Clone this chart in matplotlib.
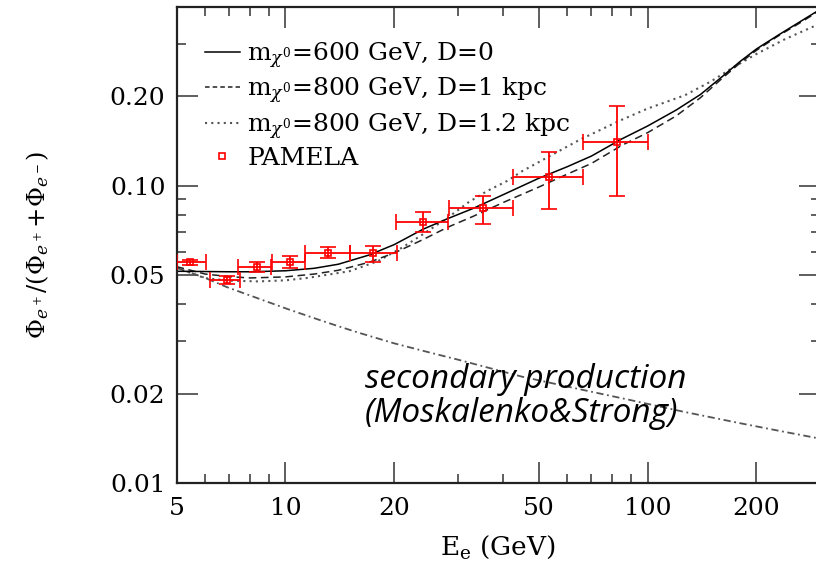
import matplotlib.pyplot as plt
from matplotlib.lines import Line2D
from matplotlib.legend_handler import HandlerLine2D
from matplotlib.ticker import FixedLocator, FixedFormatter, NullFormatter

plt.rcParams['font.family'] = ['DejaVu Serif']
plt.rcParams['mathtext.fontset'] = 'dejavuserif'

# model curves: energy (GeV) vs positron fraction
e_solid = [5, 6, 7, 8, 10, 12, 14, 17, 20, 24, 28, 33, 40, 50, 60, 70, 85, 100,
           120, 140, 160, 180, 200, 230, 260, 300]
f_solid = [0.0516, 0.0515, 0.0514, 0.0514, 0.0518, 0.0528, 0.0545, 0.0585, 0.0635,
           0.0715, 0.0775, 0.0840, 0.0935, 0.1060, 0.1160, 0.1260, 0.1440, 0.1590,
           0.1800, 0.2030, 0.2320, 0.2620, 0.2890, 0.3220, 0.3530, 0.3930]

e_dash = [5, 6, 7, 8, 10, 12, 14, 17, 20, 24, 28, 33, 40, 50, 60, 70, 85, 100,
          120, 140, 160, 180, 200, 230, 260, 300]
f_dash = [0.0535, 0.0505, 0.0495, 0.0490, 0.0494, 0.0505, 0.0520, 0.0553, 0.0595,
          0.0660, 0.0725, 0.0790, 0.0880, 0.0990, 0.1095, 0.1190, 0.1370, 0.1510,
          0.1720, 0.1980, 0.2290, 0.2590, 0.2860, 0.3200, 0.3500, 0.3900]

e_dot = [5, 6, 7, 8.4, 10, 11.5, 13, 15, 18, 21, 24, 28, 32, 36, 41, 45, 55, 65,
         84, 100, 127, 150, 172, 200, 240, 300]
f_dot = [0.0530, 0.0489, 0.0480, 0.0477, 0.0481, 0.0490, 0.0502, 0.0516, 0.0558,
         0.0620, 0.0688, 0.0780, 0.0880, 0.0960, 0.1040, 0.1120, 0.1280, 0.1430,
         0.1660, 0.1820, 0.2020, 0.2250, 0.2500, 0.2780, 0.3120, 0.3520]

# secondary production (Moskalenko & Strong)
e_sec = [5, 6, 6.9, 8.5, 10.2, 12.4, 14, 16, 20, 25, 30, 45, 66, 90, 125, 180, 230, 300]
f_sec = [0.0530, 0.0490, 0.0456, 0.0416, 0.0384, 0.0354, 0.0337, 0.0320, 0.0295,
         0.0275, 0.0260, 0.0228, 0.0206, 0.0190, 0.0174, 0.0159, 0.0150, 0.0141]

# PAMELA positron fraction
pam_e = [5.45, 6.9, 8.35, 10.3, 13.1, 17.5, 24.0, 35.2, 53.6, 82.6]
pam_e_lo = [5.0, 6.2, 7.4, 9.2, 11.3, 15.1, 20.2, 28.3, 42.5, 66.3]
pam_e_hi = [6.05, 7.5, 9.1, 11.3, 15.1, 20.3, 28.1, 42.5, 66.3, 100.5]
pam_f = [0.0555, 0.0482, 0.0532, 0.0555, 0.0594, 0.0594, 0.0755, 0.0842, 0.1068, 0.1400]
pam_f_lo = [0.0541, 0.0466, 0.0512, 0.0529, 0.0573, 0.0555, 0.0699, 0.0743, 0.0836, 0.0924]
pam_f_hi = [0.0565, 0.0499, 0.0554, 0.0580, 0.0621, 0.0630, 0.0817, 0.0923, 0.1300, 0.1863]

x_major = [5, 10, 20, 50, 100, 200]
x_minor = [6, 7, 8, 9, 30, 40, 60, 70, 80, 90, 300]
y_major = [0.01, 0.02, 0.05, 0.1, 0.2]
y_labels = ['0.01', '0.02', '0.05', '0.10', '0.20']
y_minor = [0.03, 0.04, 0.06, 0.07, 0.08, 0.09, 0.3, 0.4]


class MarkerAtRight(HandlerLine2D):
    # put the legend marker near the right end of the handle
    def get_xdata(self, legend, xdescent, ydescent, width, height, fontsize):
        xdata = [-xdescent, -xdescent + width]
        return xdata, [-xdescent + width * 0.9]


fig = plt.figure(figsize=(8.16, 5.65), dpi=100)
ax = fig.add_axes([0.2163, 0.1451, 0.7889, 0.8425])
ax.set_xscale('log')
ax.set_yscale('log')
ax.set_xlim(5, 300)
ax.set_ylim(0.01, 0.4)

ax.plot(e_sec, f_sec, color='#555555', lw=1.3, dashes=(4, 2, 1, 2))
ax.plot(e_dot, f_dot, color='#555555', lw=1.5, dashes=(1, 2))
ax.plot(e_dash, f_dash, color='#222222', lw=1.1, dashes=(5, 3))
ax.plot(e_solid, f_solid, color='black', lw=1.1)

xerr = [[c - lo for c, lo in zip(pam_e, pam_e_lo)], [hi - c for c, hi in zip(pam_e, pam_e_hi)]]
yerr = [[c - lo for c, lo in zip(pam_f, pam_f_lo)], [hi - c for c, hi in zip(pam_f, pam_f_hi)]]
ax.errorbar(pam_e, pam_f, xerr=xerr, yerr=yerr, fmt='s', ms=4, mfc='none',
            mec='red', mew=1.2, ecolor='red', elinewidth=1.3, capsize=5.5,
            capthick=1.3, zorder=5)

ax.text(16.6, 0.0254, 'secondary production\n(Moskalenko&Strong)',
        family=['Open Sans', 'DejaVu Sans'], style='italic', fontsize=24,
        va='top', ha='left', linespacing=1.05)

handles = [Line2D([], [], color='black', lw=1.1),
           Line2D([], [], color='#222222', lw=1.1, dashes=(3, 2)),
           Line2D([], [], color='#555555', lw=1.5, dashes=(1, 2)),
           Line2D([], [], ls='none', marker='s', ms=4, mfc='none', mec='red', mew=1.2)]
labels = [r'$\mathregular{m}_{\chi^0}$=600 GeV, D=0',
          r'$\mathregular{m}_{\chi^0}$=800 GeV, D=1 kpc',
          r'$\mathregular{m}_{\chi^0}$=800 GeV, D=1.2 kpc',
          'PAMELA']
ax.legend(handles, labels, loc='upper left', bbox_to_anchor=(0.044, 0.93),
          frameon=False, fontsize=18, handlelength=1.4, handletextpad=0.3,
          labelspacing=0.2, borderpad=0, borderaxespad=0,
          handler_map={handles[3]: MarkerAtRight()})

ax.xaxis.set_major_locator(FixedLocator(x_major))
ax.xaxis.set_major_formatter(FixedFormatter([str(v) for v in x_major]))
ax.xaxis.set_minor_locator(FixedLocator(x_minor))
ax.xaxis.set_minor_formatter(NullFormatter())
ax.yaxis.set_major_locator(FixedLocator(y_major))
ax.yaxis.set_major_formatter(FixedFormatter(y_labels))
ax.yaxis.set_minor_locator(FixedLocator(y_minor))
ax.yaxis.set_minor_formatter(NullFormatter())

ax.tick_params(which='both', direction='in', top=True, right=True, color='#333333')
ax.tick_params(which='major', length=15, width=1.1, labelsize=18)
ax.tick_params(which='minor', length=6.5, width=1.1)
ax.tick_params(axis='x', pad=10)
ax.tick_params(axis='y', pad=8)
for sp in ax.spines.values():
    sp.set_linewidth(1.6)
    sp.set_color('#222222')

ax.set_xlabel(r'$\mathregular{E_e}$ (GeV)', fontsize=19, labelpad=10)
ax.set_ylabel(r'$\Phi_{e^+}/(\Phi_{e^+}\!+\!\Phi_{e^-})$', fontsize=17.5, labelpad=42)

fig.savefig('out.png', dpi=100)
